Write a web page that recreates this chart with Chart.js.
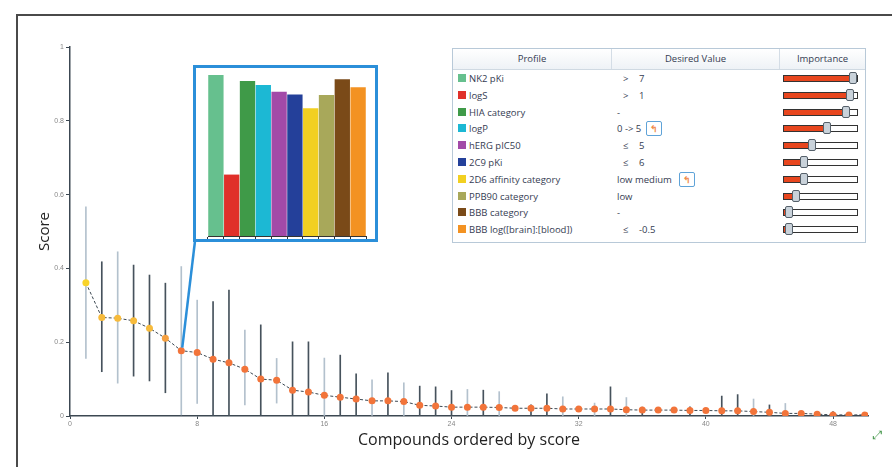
<!DOCTYPE html>
<html lang="en">
<head>
<meta charset="UTF-8" />
<title>Compounds ordered by score</title>
<script src="https://cdn.jsdelivr.net/npm/chart.js"></script>
<style>
  body { margin: 0; background: #fff; font-family: "Open Sans", sans-serif; }
  #wrap { position: relative; width: 892px; height: 467px; overflow: hidden; }
  .frame-l { position: absolute; left: 16px; top: 14px; width: 2px; height: 453px; background: #4a4a4a; }
  .frame-t { position: absolute; left: 16px; top: 14px; width: 876px; height: 2px; background: #4a4a4a; }
  #inset {
    position: absolute; left: 193px; top: 65px; width: 185px; height: 177px;
    border: 3px solid #2b8fd9; box-sizing: border-box; background: #fff;
  }
  #inset canvas { display: block; }
  #profile {
    position: absolute; left: 452px; top: 48px; width: 414px; height: 195px;
    border: 1px solid #b8c9d8; box-sizing: border-box; background: #fff;
    font-size: 9.5px; color: #353c52;
  }
  .hdr {
    position: absolute; left: 0; top: 0; width: 412px; height: 20px;
    background: linear-gradient(#ffffff, #eef2f6); border-bottom: 1px solid #cfd9e2;
  }
  .hcell { position: absolute; top: 0; height: 20px; line-height: 20px; text-align: center; color: #353c52; }
  .hsep { position: absolute; top: 0; width: 1px; height: 20px; background: #d4dde6; }
  .row { position: absolute; left: 0; width: 412px; height: 17px; line-height: 17px; white-space: nowrap; }
  .sw { position: absolute; left: 5px; top: 4px; width: 8px; height: 8px; }
  .lbl { position: absolute; left: 16px; }
  .op { position: absolute; left: 170px; }
  .val { position: absolute; left: 186px; }
  .txt { position: absolute; left: 164px; }
  .ico {
    position: absolute; top: 1px; width: 14px; height: 13px; line-height: 13px;
    border: 1px solid #5fa3d8; border-radius: 2px; text-align: center;
    color: #f08a4a; font-size: 9px; font-weight: bold;
  }
  .track {
    position: absolute; left: 330px; top: 5px; width: 75px; height: 7px;
    border: 1px solid #333; box-sizing: border-box; background: #fff;
  }
  .fill { position: absolute; left: 0; top: 0; height: 5px; background: #e8461e; }
  .thumb {
    position: absolute; top: 2px; width: 8px; height: 12px; box-sizing: border-box;
    background: #c9d2da; border: 1px solid #56616b; border-radius: 2px;
  }
  #resize { position: absolute; left: 873px; top: 426px; color: #4a9a50; font-size: 12px; }
</style>
</head>
<body>
<div id="wrap">
  <canvas id="scoreChart" width="892" height="467"></canvas>
  <div class="frame-l"></div>
  <div class="frame-t"></div>
  <div id="inset"><canvas id="insetChart" width="179" height="171"></canvas></div>
  <div id="profile">
    <div class="hdr">
      <div class="hcell" style="left:0;width:158px">Profile</div>
      <div class="hsep" style="left:158px"></div>
      <div class="hcell" style="left:159px;width:167px">Desired Value</div>
      <div class="hsep" style="left:326px"></div>
      <div class="hcell" style="left:327px;width:85px">Importance</div>
    </div>
  </div>
  <div id="resize">&#x2922;</div>
</div>

<script>
  // score of each compound (x = 1..50)
  const scores = [0.361, 0.267, 0.265, 0.258, 0.238, 0.211, 0.177, 0.172, 0.154, 0.144,
                  0.127, 0.100, 0.097, 0.070, 0.065, 0.056, 0.051, 0.046, 0.041, 0.041,
                  0.039, 0.029, 0.027, 0.024, 0.024, 0.024, 0.023, 0.021, 0.021, 0.021,
                  0.019, 0.019, 0.019, 0.019, 0.017, 0.016, 0.016, 0.016, 0.015, 0.015,
                  0.014, 0.014, 0.012, 0.010, 0.007, 0.007, 0.005, 0.003, 0.003, 0.003];
  // uncertainty bars (null = none drawn)
  const errHigh = [0.567, 0.418, 0.445, 0.409, 0.382, 0.360, 0.405, 0.314, 0.310, 0.341,
                   0.233, 0.247, 0.156, 0.201, 0.201, 0.157, 0.165, 0.114, 0.098, 0.117,
                   0.090, 0.081, 0.079, 0.069, 0.072, 0.070, 0.066, null, 0.030, 0.060,
                   0.052, null, 0.035, 0.079, 0.050, 0.024, null, null, 0.025, null,
                   0.054, 0.058, 0.046, 0.030, 0.034, null, null, 0.012, null, null];
  const errLow = [0.156, 0.120, 0.089, 0.108, 0.095, 0.063, 0.003, 0.034, 0, 0,
                  0.030, 0, 0.035, 0, 0, 0, 0, 0, 0, 0,
                  0, 0, 0, 0, 0, 0, 0, 0, 0, 0,
                  0, 0, 0, 0, 0, 0, 0, 0, 0, 0,
                  0, 0, 0, 0, 0, 0, 0, 0, 0, 0];
  // d = dark bar, l = light bar, - = none
  const errTone = ['l', 'd', 'l', 'd', 'd', 'd', 'l', 'l', 'd', 'd',
                   'l', 'd', 'l', 'd', 'd', 'l', 'd', 'd', 'l', 'd',
                   'l', 'd', 'd', 'd', 'l', 'd', 'l', '-', 'd', 'd',
                   'l', '-', 'l', 'd', 'l', 'd', '-', '-', 'd', '-',
                   'd', 'd', 'l', 'd', 'l', '-', '-', 'd', '-', '-'];

  const xTicksStep = 8;

  // inset: profile of the selected compound
  const profileNames = ['NK2 pKi', 'logS', 'HIA category', 'logP', 'hERG pIC50', '2C9 pKi',
                        '2D6 affinity category', 'PPB90 category', 'BBB category', 'BBB log([brain]:[blood])'];
  const profileColors = ['#66c08e', '#e0302a', '#3f9a48', '#1cb8d4', '#a24aa8', '#24409a',
                         '#f2d021', '#a8a85a', '#7a4a18', '#f39222'];
  const insetValues = [0.970, 0.370, 0.934, 0.909, 0.869, 0.853, 0.769, 0.849, 0.944, 0.896];
  const desiredOp = ['>', '>', '', '', '\u2264', '\u2264', '', '', '', '\u2264'];
  const desiredVal = ['7', '1', '-', '0 -> 5', '5', '6', 'low medium', 'low', '-', '-0.5'];
  const importance = [1.0, 0.955, 0.894, 0.606, 0.379, 0.258, 0.258, 0.136, 0.03, 0.03];

  // ---------- profile table ----------
  const table = document.getElementById('profile');
  profileNames.forEach((name, i) => {
    const row = document.createElement('div');
    row.className = 'row';
    row.style.top = (20.9 + i * 16.8) + 'px';
    let html = `<div class="sw" style="background:${profileColors[i]}"></div><div class="lbl">${name}</div>`;
    if (desiredOp[i]) {
      html += `<div class="op">${desiredOp[i]}</div><div class="val">${desiredVal[i]}</div>`;
    } else {
      html += `<div class="txt">${desiredVal[i]}</div>`;
    }
    if (name === 'logP') html += '<div class="ico" style="left:193px">\u21b0</div>';
    if (name === '2D6 affinity category') html += '<div class="ico" style="left:226px">\u21b0</div>';
    const thumbX = 334 + importance[i] * 66;   // thumb centre, table coords
    html += `<div class="track"><div class="fill" style="width:${thumbX - 331}px"></div></div>`;
    html += `<div class="thumb" style="left:${thumbX - 4}px"></div>`;
    row.innerHTML = html;
    table.appendChild(row);
  });

  // ---------- main chart ----------
  const scorePoints = scores.map((s, i) => ({ x: i + 1, y: s }));
  const pointColors = scores.map(s => s > 0.3 ? '#f8d32a' : s > 0.22 ? '#f7bb3c' : s > 0.2 ? '#f5a040' : '#f2743a');
  const errPoints = [];
  const errColors = [];
  errHigh.forEach((h, i) => {
    if (h === null) return;
    errPoints.push({ x: i + 1, y: [errLow[i], h] });
    errColors.push(errTone[i] === 'd' ? '#46525c' : '#b3c1cd');
  });

  const connector = {
    id: 'connector',
    afterDatasetsDraw(chart) {
      const { ctx, scales } = chart;
      const px = scales.x.getPixelForValue(7);
      const py = scales.y.getPixelForValue(scores[6]);
      ctx.save();
      ctx.strokeStyle = '#2b8fd9';
      ctx.lineWidth = 2.5;
      ctx.beginPath();
      ctx.moveTo(195, 241);
      ctx.lineTo(px + 1, py - 3);
      ctx.stroke();
      ctx.restore();
    }
  };

  const axisColor = '#3c4852';
  new Chart(document.getElementById('scoreChart'), {
    type: 'bar',
    data: {
      datasets: [
        {
          type: 'line', data: scorePoints, order: 0,
          borderColor: axisColor, borderWidth: 1, borderDash: [3, 2],
          pointRadius: 3.5, pointBackgroundColor: pointColors, pointBorderWidth: 0
        },
        {
          type: 'bar', data: errPoints, order: 1,
          backgroundColor: errColors, barThickness: 1
        }
      ]
    },
    options: {
      responsive: false,
      animation: false,
      layout: { padding: { top: 47, right: 24, left: 0, bottom: 0 } },
      plugins: { legend: { display: false }, tooltip: { enabled: false } },
      scales: {
        x: {
          type: 'linear', min: 0, max: 50.2, offset: false,
          ticks: { stepSize: xTicksStep, includeBounds: false, font: { size: 7 }, color: '#888', padding: 1 },
          grid: { drawOnChartArea: false, offset: false, tickLength: 3, color: axisColor },
          border: { color: axisColor, width: 1.5 },
          title: {
            display: true, text: 'Compounds ordered by score', color: '#222',
            font: { size: 16, family: 'Open Sans' }, padding: { top: 0, bottom: 17 }
          },
          afterFit(s) { s.height = 51; }
        },
        y: {
          min: 0, max: 1,
          ticks: {
            stepSize: 0.2, font: { size: 7 }, color: '#888', padding: 2,
            callback: v => (v === 0 || v === 1) ? String(v) : v.toFixed(1)
          },
          grid: { drawOnChartArea: false, tickLength: 4, color: axisColor },
          border: { color: axisColor, width: 1.5 },
          title: {
            display: true, text: 'Score', color: '#222',
            font: { size: 15, family: 'Open Sans' }, padding: { top: 36, bottom: 0 }
          },
          afterFit(s) { s.width = 70; }
        }
      }
    },
    plugins: [connector]
  });

  // ---------- inset bar chart ----------
  new Chart(document.getElementById('insetChart'), {
    type: 'bar',
    data: {
      labels: profileNames,
      datasets: [{ data: insetValues, backgroundColor: profileColors, barPercentage: 1, categoryPercentage: 0.97 }]
    },
    options: {
      responsive: false,
      animation: false,
      layout: { padding: { left: 12, right: 9, top: 2, bottom: 0 } },
      plugins: { legend: { display: false }, tooltip: { enabled: false } },
      scales: {
        y: { display: false, min: 0, max: 1 },
        x: {
          ticks: { display: false },
          grid: { drawOnChartArea: false, tickLength: 3, color: '#333' },
          border: { color: '#333', width: 1 },
          afterFit(s) { s.height = 3; }
        }
      }
    }
  });
</script>
</body>
</html>
